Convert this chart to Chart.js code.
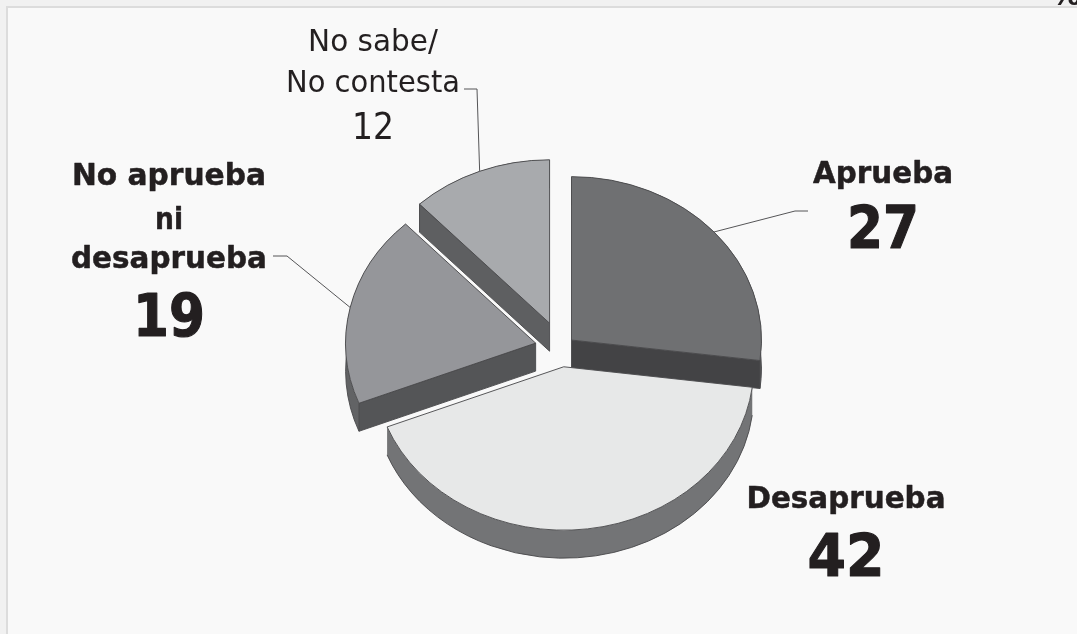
<!DOCTYPE html>
<html>
<head>
<meta charset="utf-8">
<script src="https://cdn.jsdelivr.net/npm/chart.js@4"></script>
<style>
html,body{margin:0;padding:0;background:#f1f1f1;width:1077px;height:634px;overflow:hidden}
#panel{position:absolute;left:6px;top:6px;width:1071px;height:628px;box-sizing:border-box;background:#f9f9f9;border-left:2px solid #dcdcdc;border-top:2px solid #dcdcdc}
canvas{position:absolute;left:0;top:0}
</style>
</head>
<body>
<div id="panel"></div>
<canvas id="c" width="1077" height="634"></canvas>
<script>
const categories = ["Aprueba", "Desaprueba", "No aprueba ni desaprueba", "No sabe/No contesta"];
const values = [27, 42, 19, 12];
const topColors = ["#6f7072", "#e7e8e8", "#95969a", "#a8aaad"];
const rimColors = ["#5a5b5d", "#737476", "#626365", "#5e5f61"];
const wallColors = ["#434345", "#737476", "#545557", "#5e5f61"];
const explode = [14, 22, 26, 31];
const paintOrder = [3, 0, 2, 1];
const labelLines = [["Aprueba"], ["Desaprueba"], ["No aprueba", "ni", "desaprueba"], ["No sabe/", "No contesta"]];
const labelBold = [true, true, true, false];
const labelX = [883, 846, 169, 373];
const labelLineY = [[183], [508], [185, 229, 268], [51, 92]];
const labelLineW = [[140], [199], [194, 28, 196], [133, 174]];
const valueY = [248, 576, 336, 139];
const valueW = [72, 77, 72, 42];
const elbows = [[[795, 211], [808, 211]], [], [[287, 256], [273, 256]], [[477, 89], [464, 89]]];
const cornerMark = "%";

const SQUASH = 0.86, DEPTH = 28, RADIUS = 190;

const pie3d = {
  id: "pie3d",
  afterDatasetsUpdate(chart) {
    chart.getDatasetMeta(0).data.forEach((arc, i) => {
      const mid = (arc.startAngle + arc.endAngle) / 2;
      arc.x += explode[i] * Math.cos(mid);
      arc.y += explode[i] * Math.sin(mid);
    });
  },
  beforeDatasetsDraw(chart) {
    const ctx = chart.ctx, cy = (chart.chartArea.top + chart.chartArea.bottom) / 2;
    const arcs = chart.getDatasetMeta(0).data, d = DEPTH / SQUASH;
    ctx.save();
    ctx.translate(0, cy); ctx.scale(1, SQUASH); ctx.translate(0, -cy);
    ctx.lineWidth = 1; ctx.strokeStyle = "#4a4a4c"; ctx.lineJoin = "round";
    paintOrder.forEach(i => {
      const a = arcs[i], r = a.outerRadius, s = a.startAngle, e = a.endAngle;
      // curved rim, filled, with only its lower arc outlined
      ctx.beginPath();
      ctx.arc(a.x, a.y, r, s, e);
      ctx.arc(a.x, a.y + d, r, e, s, true);
      ctx.closePath();
      ctx.fillStyle = rimColors[i]; ctx.fill();
      ctx.beginPath();
      ctx.arc(a.x, a.y + d, r, s, e);
      ctx.stroke();
      // only the cut faces that look towards the viewer
      [[s, Math.cos(s) < -1e-6], [e, Math.cos(e) > 1e-6]].forEach(([t, visible]) => {
        if (!visible) return;
        const px = a.x + r * Math.cos(t), py = a.y + r * Math.sin(t);
        ctx.beginPath();
        ctx.moveTo(a.x, a.y); ctx.lineTo(px, py); ctx.lineTo(px, py + d); ctx.lineTo(a.x, a.y + d);
        ctx.closePath();
        ctx.fillStyle = wallColors[i]; ctx.fill(); ctx.stroke();
      });
    });
    ctx.restore();
    // squash the tops drawn next by the library
    ctx.save();
    ctx.translate(0, cy); ctx.scale(1, SQUASH); ctx.translate(0, -cy);
  },
  afterDatasetsDraw(chart) {
    const ctx = chart.ctx, cy = (chart.chartArea.top + chart.chartArea.bottom) / 2;
    ctx.restore();
    const arcs = chart.getDatasetMeta(0).data;
    // leader lines start on the rim at each slice's mid angle
    ctx.save();
    ctx.strokeStyle = "#555557"; ctx.lineWidth = 1;
    arcs.forEach((a, i) => {
      if (!elbows[i].length) return;
      const mid = (a.startAngle + a.endAngle) / 2;
      const x = a.x + a.outerRadius * Math.cos(mid);
      const y = cy + (a.y + a.outerRadius * Math.sin(mid) - cy) * SQUASH;
      ctx.beginPath(); ctx.moveTo(x, y);
      elbows[i].forEach(p => ctx.lineTo(p[0], p[1]));
      ctx.stroke();
    });
    // labels
    ctx.fillStyle = ctx.strokeStyle = "#231f20"; ctx.textAlign = "center"; ctx.textBaseline = "alphabetic";
    ctx.lineJoin = "round";
    const put = (t, x, y, w, sw) => {
      ctx.fillText(t, x, y, w);
      if (sw) { ctx.lineWidth = sw; ctx.strokeText(t, x, y, w); }
    };
    labelLines.forEach((lines, i) => {
      ctx.font = (labelBold[i] ? "bold 30px" : "29.5px") + " 'DejaVu Sans'";
      lines.forEach((t, j) => put(t, labelX[i], labelLineY[i][j], labelLineW[i][j], labelBold[i] ? 0.5 : 0));
      ctx.font = (labelBold[i] ? "bold 59px" : "38px") + " 'DejaVu Sans'";
      put(String(values[i]), labelX[i], valueY[i], valueW[i], labelBold[i] ? 1.2 : 0);
    });
    ctx.font = "bold 30px 'DejaVu Sans'";
    ctx.fillText(cornerMark, 1066, 5);
    ctx.restore();
  }
};

new Chart(document.getElementById("c"), {
  type: "pie",
  data: {
    labels: categories,
    datasets: [{
      data: values,
      backgroundColor: topColors,
      borderColor: "#4a4a4c",
      borderWidth: 1,
      radius: RADIUS
    }]
  },
  options: {
    responsive: false,
    animation: false,
    layout: { padding: { left: 45, top: 62, right: 0, bottom: 0 } },
    plugins: { legend: { display: false }, tooltip: { enabled: false } }
  },
  plugins: [pie3d]
});
</script>
</body>
</html>
